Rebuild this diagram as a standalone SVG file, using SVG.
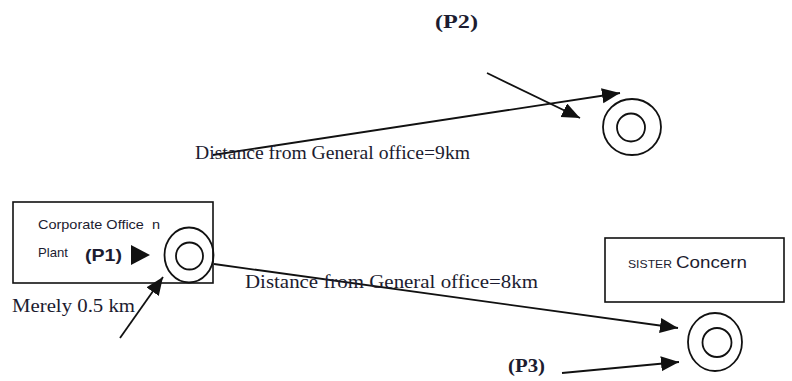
<svg xmlns="http://www.w3.org/2000/svg" width="792" height="381" viewBox="0 0 792 381">
<style>
.box{fill:#fff;stroke:#111;stroke-width:1.6}
.ring{fill:none;stroke:#111;stroke-width:1.8}
.conn{fill:none;stroke:#111;stroke-width:1.8}
.serif{font-family:"Liberation Serif","Times New Roman",serif;fill:#1c1c30}
.sans{font-family:"Liberation Sans",Arial,sans-serif;fill:#1c1c30}
</style>
<defs>
<marker id="arrow" markerUnits="userSpaceOnUse" markerWidth="20" markerHeight="16" refX="18" refY="7.5" orient="auto">
<path d="M0,0 L18,7.5 L0,15 z" fill="#111"/>
</marker>
</defs>
<rect width="792" height="381" fill="#fff"/>

<g id="corporate-office">
<rect class="box" x="13" y="202" width="200" height="81"/>
<text class="sans" x="38" y="229" font-size="13" textLength="122" lengthAdjust="spacingAndGlyphs" xml:space="preserve" style="white-space:pre">Corporate Office  n</text>
<text class="sans" x="38" y="257" font-size="13" textLength="30" lengthAdjust="spacingAndGlyphs">Plant</text>
<text class="sans" x="85" y="261" font-size="17" font-weight="bold" textLength="37" lengthAdjust="spacingAndGlyphs">(P1)</text>
<polygon points="131,245 150,255 131,265" fill="#111"/>
</g>

<g id="p1">
<ellipse class="ring" cx="189" cy="255" rx="24.5" ry="27.5"/>
<circle class="ring" cx="189.5" cy="256" r="13.5"/>
</g>

<g id="p2">
<ellipse class="ring" cx="632" cy="127" rx="29" ry="28"/>
<circle class="ring" cx="631" cy="127.5" r="14"/>
<text class="serif" x="435" y="28" font-size="19" font-weight="bold" textLength="43" lengthAdjust="spacingAndGlyphs">(P2)</text>
</g>

<g id="sister-concern">
<rect class="box" x="605" y="238" width="179" height="64"/>
<text class="sans" x="628" y="268" font-size="11.5" textLength="44" lengthAdjust="spacingAndGlyphs">SISTER</text>
<text class="sans" x="676" y="268" font-size="17" textLength="71" lengthAdjust="spacingAndGlyphs">Concern</text>
</g>

<g id="p3">
<ellipse class="ring" cx="715" cy="342" rx="27" ry="29"/>
<circle class="ring" cx="717" cy="342.5" r="14.5"/>
<text class="serif" x="508" y="372" font-size="19" font-weight="bold" textLength="37" lengthAdjust="spacingAndGlyphs">(P3)</text>
</g>

<g id="connectors">
<line class="conn" x1="213" y1="155" x2="620" y2="93" marker-end="url(#arrow)"/>
<line class="conn" x1="487" y1="73" x2="580" y2="118" marker-end="url(#arrow)"/>
<line class="conn" x1="214" y1="264" x2="678" y2="328" marker-end="url(#arrow)"/>
<line class="conn" x1="562" y1="373" x2="679" y2="362" marker-end="url(#arrow)"/>
<line class="conn" x1="120" y1="338" x2="163" y2="277" marker-end="url(#arrow)"/>
</g>

<g id="labels">
<text class="serif" x="195" y="159" font-size="19" textLength="275" lengthAdjust="spacingAndGlyphs">Distance from General office=9km</text>
<text class="serif" x="245" y="288" font-size="19" textLength="293" lengthAdjust="spacingAndGlyphs">Distance from General office=8km</text>
<text class="serif" x="12" y="312" font-size="19" textLength="123" lengthAdjust="spacingAndGlyphs">Merely 0.5 km</text>
</g>
</svg>
